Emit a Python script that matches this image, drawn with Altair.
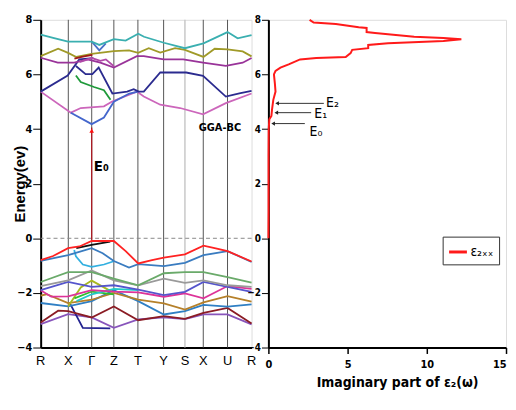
import altair as alt
import pandas as pd

# ---------------- k-path ----------------
KPOS = [0.0, 0.131, 0.242, 0.347, 0.461, 0.583, 0.684, 0.771, 0.886, 1.0]
KLAB = ["R", "X", "Γ", "Z", "T", "Y", "S", "X", "U", "R"]
K_DARK = [0.131, 0.242, 0.347, 0.461, 0.583, 0.771, 0.886]
K_LIGHT = [0.684]

# ---------------- conduction bands ----------------
c_cyan_k = [0, 0.059, 0.130, 0.242, 0.278, 0.347, 0.403, 0.4625, 0.49, 0.584, 0.684, 0.772, 0.886, 0.934, 1.0]
c_cyan_e = [7.46, 7.34, 7.2, 7.2, 7.08, 7.29, 7.24, 7.49, 7.38, 7.16, 6.96, 7.14, 7.55, 7.32, 7.44]
c_dip_k = [0.242, 0.263, 0.278, 0.309]
c_dip_e = [7.2, 7.02, 6.88, 7.14]
c_olive_k = [0, 0.083, 0.130, 0.169, 0.242, 0.347, 0.419, 0.4625, 0.5125, 0.567, 0.6375, 0.684, 0.772, 0.825, 0.886, 0.958, 1.0]
c_olive_e = [6.67, 6.94, 6.79, 6.64, 6.75, 6.85, 6.88, 6.79, 6.96, 6.8, 6.96, 6.9, 6.64, 6.94, 6.92, 6.84, 6.66]
c_purple_k = [0, 0.081, 0.159, 0.222, 0.283, 0.347, 0.456, 0.489, 0.583, 0.676, 0.770, 0.878, 0.958, 1.0]
c_purple_e = [6.61, 6.43, 6.43, 6.55, 6.43, 6.25, 6.67, 6.67, 6.55, 6.55, 6.43, 6.31, 6.43, 6.6]
c_mauve_k = [0.184, 0.242, 0.283, 0.309, 0.347]
c_mauve_e = [6.45, 6.6, 6.5, 6.55, 6.3]
c_dred_k = [0.16, 0.2, 0.245]
c_dred_e = [6.58, 6.65, 6.72]
c_navyA_k = [0, 0.128, 0.183, 0.25]
c_navyA_e = [5.37, 5.96, 6.55, 6.6]
c_navyB_k = [0.167, 0.213, 0.245, 0.275, 0.34, 0.41, 0.441, 0.465, 0.489, 0.567, 0.69, 0.77, 0.878, 0.942, 1.0]
c_navyB_e = [6.31, 6.01, 6.01, 6.25, 5.3, 5.37, 5.46, 5.37, 5.37, 6.07, 6.07, 5.95, 5.19, 5.31, 5.4]
c_green_k = [0.167, 0.19, 0.253, 0.3, 0.331]
c_green_e = [5.96, 5.72, 5.54, 5.42, 5.07]
c_pink_k = [0, 0.143, 0.19, 0.3, 0.339, 0.456, 0.489, 0.567, 0.661, 0.770, 0.878, 1.0]
c_pink_e = [5.37, 4.6, 4.77, 4.83, 5.01, 5.37, 5.19, 4.89, 4.77, 4.54, 4.95, 5.3]
c_corn_k = [0.143, 0.242, 0.3, 0.347, 0.42, 0.4625]
c_corn_e = [4.6, 4.18, 4.42, 5.0, 5.3, 5.37]

# ---------------- valence bands ----------------
v_red_k = [0, 0.059, 0.130, 0.184, 0.242, 0.347, 0.403, 0.4625, 0.528, 0.584, 0.684, 0.772, 0.825, 0.886, 1.0]
v_red_e = [-0.80, -0.65, -0.36, -0.3, -0.1, -0.1, -0.47, -0.92, -0.8, -0.71, -0.59, -0.27, -0.36, -0.47, -0.85]
v_black_k = [0.169, 0.242, 0.33]
v_black_e = [-0.36, -0.24, -0.12]
v_steel_k = [0, 0.130, 0.242, 0.294, 0.347, 0.419, 0.4625, 0.584, 0.684, 0.772, 0.886, 1.0]
v_steel_e = [-0.83, -0.62, -0.36, -0.55, -0.83, -1.07, -0.95, -1.02, -0.9, -0.62, -0.47, -0.87]
v_sky_k = [0.159, 0.167, 0.2, 0.242, 0.3, 0.347]
v_sky_e = [-0.43, -0.66, -0.96, -1.05, -0.96, -0.84]
v_sage_k = [0, 0.130, 0.242, 0.347, 0.4625, 0.584, 0.684, 0.772, 0.886, 1.0]
v_sage_e = [-1.6, -1.24, -1.24, -1.48, -1.72, -1.28, -1.24, -1.24, -1.42, -1.62]
v_gray_k = [0, 0.130, 0.242, 0.347, 0.4625, 0.584, 0.684, 0.772, 0.886, 1.0]
v_gray_e = [-1.75, -1.54, -1.18, -1.54, -1.72, -1.48, -1.63, -1.54, -1.72, -1.78]
v_slate_k = [0, 0.130, 0.242, 0.347, 0.4625, 0.584, 0.684, 0.772, 0.886, 1.0]
v_slate_e = [-1.9, -1.6, -1.78, -1.72, -1.88, -2.08, -1.96, -1.6, -1.78, -1.96]
v_mag_k = [0, 0.05, 0.130, 0.242, 0.347, 0.4625, 0.584, 0.684, 0.772, 0.886, 1.0]
v_mag_e = [-1.9, -2.14, -2.13, -1.9, -1.95, -1.98, -2.14, -2.02, -2.2, -1.75, -1.85]
v_ochre_k = [0, 0.028, 0.130, 0.242, 0.347, 0.4625, 0.584, 0.684, 0.772, 0.886, 1.0]
v_ochre_e = [-2.1, -2.05, -2.37, -2.25, -2.0, -2.25, -2.38, -2.61, -2.35, -2.12, -2.32]
v_blue_k = [0, 0.130, 0.242, 0.347, 0.4625, 0.584, 0.684, 0.772, 0.886, 1.0]
v_blue_e = [-2.37, -2.49, -2.3, -1.9, -2.3, -2.79, -2.67, -2.44, -2.5, -2.42]
v_maroon_k = [0, 0.083, 0.130, 0.242, 0.347, 0.4625, 0.584, 0.684, 0.772, 0.886, 1.0]
v_maroon_e = [-3.08, -2.65, -2.67, -2.9, -2.5, -3.0, -2.85, -2.95, -2.73, -2.55, -3.12]
v_violet_k = [0, 0.130, 0.242, 0.347, 0.4625, 0.584, 0.684, 0.772, 0.886, 1.0]
v_violet_e = [-3.14, -2.78, -2.9, -3.28, -2.97, -2.9, -2.96, -2.79, -2.79, -3.15]
v_navy_k = [0.14, 0.2, 0.33]
v_navy_e = [-2.4, -3.28, -3.3]
v_olive_k = [0.130, 0.19, 0.242, 0.347]
v_olive_e = [-2.5, -1.8, -1.55, -2.0]
v_green_k = [0.16, 0.242, 0.347]
v_green_e = [-2.2, -1.95, -2.05]
v_cyan_k = [0.17, 0.242, 0.347, 0.4625]
v_cyan_e = [-2.3, -2.05, -1.85, -1.9]

BANDS = [
    ("c_pink", c_pink_k, c_pink_e, "#cc66bb"),
    ("c_corn", c_corn_k, c_corn_e, "#4466cc"),
    ("c_green", c_green_k, c_green_e, "#1f9a3a"),
    ("c_navyA", c_navyA_k, c_navyA_e, "#2b2b8f"),
    ("c_navyB", c_navyB_k, c_navyB_e, "#2b2b8f"),
    ("c_purple", c_purple_k, c_purple_e, "#993399"),
    ("c_mauve", c_mauve_k, c_mauve_e, "#b04aa8"),
    ("c_olive", c_olive_k, c_olive_e, "#a09a28"),
    ("c_dred", c_dred_k, c_dred_e, "#a01818"),
    ("c_dip", c_dip_k, c_dip_e, "#4a70c8"),
    ("c_cyan", c_cyan_k, c_cyan_e, "#3aafb0"),
    ("v_violet", v_violet_k, v_violet_e, "#8855bb"),
    ("v_navy", v_navy_k, v_navy_e, "#22228f"),
    ("v_maroon", v_maroon_k, v_maroon_e, "#8b1c24"),
    ("v_blue", v_blue_k, v_blue_e, "#2f7fc4"),
    ("v_ochre", v_ochre_k, v_ochre_e, "#b5802a"),
    ("v_olive", v_olive_k, v_olive_e, "#a8b820"),
    ("v_green", v_green_k, v_green_e, "#2fbf2f"),
    ("v_cyan", v_cyan_k, v_cyan_e, "#22c8c8"),
    ("v_mag", v_mag_k, v_mag_e, "#dd3399"),
    ("v_slate", v_slate_k, v_slate_e, "#5555cc"),
    ("v_gray", v_gray_k, v_gray_e, "#9a9a9a"),
    ("v_sage", v_sage_k, v_sage_e, "#6aaa6a"),
    ("v_sky", v_sky_k, v_sky_e, "#33b0e0"),
    ("v_steel", v_steel_k, v_steel_e, "#3a7cc0"),
    ("v_black", v_black_k, v_black_e, "#111111"),
    ("v_red", v_red_k, v_red_e, "#ff2222"),
]

# ---------------- epsilon_2 spectrum ----------------
eps_vals = [2.6, 2.86, 4.26, 5.7, 6.2, 6.2, 6.73, 9.2, 11.05, 12.18, 11.05, 7.55, 6.3, 6.3, 5.29,
            5.19, 4.88, 3.02, 2.0, 1.28, 0.76, 0.45, 0.35, 0.41, 0.45, 0.31, 0.23, 0.19, 0.06, 0.02,
            0.01, 0.01, 0.01, 0.0]
eps_energy = [8.0, 7.9, 7.85, 7.73, 7.7, 7.55, 7.52, 7.38, 7.33, 7.29, 7.22, 7.14, 7.08, 6.96, 6.9,
              6.78, 6.64, 6.6, 6.55, 6.37, 6.25, 6.13, 6.0, 5.66, 5.37, 5.07, 4.72, 4.48, 4.36, 4.0,
              3.0, 2.0, 1.0, 0.0]

# transition markers on the spectrum
trans_lab = ["E₂", "E₁", "E₀"]
trans_e = [4.94, 4.6, 4.2]
trans_from = [3.5, 2.7, 2.3]
trans_to = [0.55, 0.5, 0.3]
trans_text_x = [3.64, 2.9, 2.6]
trans_text_e = [4.95, 4.55, 3.88]

# gap annotation
gap_k = 0.242
gap_e = [-0.05, 4.06]
gap_label = "E₀"
gap_label_pos = [0.252, 2.65]
method_label = "GGA-BC"
method_pos = [0.85, 4.02]

NARROW = "DejaVu Sans Condensed, Liberation Sans Narrow, sans-serif"
SANS = "Liberation Sans, Arial, sans-serif"

# ---------------- build band dataframe ----------------
rows = []
for name, ks, es, col in BANDS:
    for i, (k, e) in enumerate(zip(ks, es)):
        rows.append({"band": name, "k": k, "E": e, "i": i})
bdf = pd.DataFrame(rows)
band_names = [b[0] for b in BANDS]
band_colors = [b[3] for b in BANDS]

H = 331
kx = alt.Scale(domain=[0, 1], nice=False, zero=False)
ey = alt.Scale(domain=[-4, 8], nice=False, zero=False)

x_axis_left = alt.Axis(values=KPOS, labels=False, ticks=False, title=None, grid=False,
                       domainColor="black", domainWidth=2)
y_axis_left = alt.Axis(values=list(range(-4, 9)), title="Energy(ev)", grid=False,
                       titleFont=SANS, titleFontSize=15, titleFontWeight="bold", titleX=-21,
                       titleBaseline="middle", titleColor="black",
                       labelFont=NARROW, labelFontSize=11, labelFontWeight="bold", labelColor="black",
                       labelOverlap=False,
                       tickSize=8, tickColor="black", labelPadding=1,
                       domainColor="black", domainWidth=2)

bands = alt.Chart(bdf).mark_line(strokeWidth=1.8).encode(
    x=alt.X("k:Q", scale=kx, axis=x_axis_left),
    y=alt.Y("E:Q", scale=ey, axis=y_axis_left),
    color=alt.Color("band:N", scale=alt.Scale(domain=band_names, range=band_colors), legend=None),
    detail="band:N",
    order="i:Q",
)

klab_df = pd.DataFrame({"k": KPOS, "lab": KLAB, "E": [-4] * len(KPOS)})
klabels = alt.Chart(klab_df).mark_text(baseline="top", dy=8, font=SANS, fontSize=13,
                                       color="black").encode(x="k:Q", y="E:Q", text="lab:N")

vdark = alt.Chart(pd.DataFrame({"k": K_DARK})).mark_rule(strokeWidth=1, color="#555555").encode(x="k:Q")
vlight = alt.Chart(pd.DataFrame({"k": K_LIGHT})).mark_rule(strokeWidth=1.5, color="#c8c8c8").encode(x="k:Q")

zero = alt.Chart(pd.DataFrame({"E": [0]})).mark_rule(strokeDash=[4, 3], color="#888888", strokeWidth=1).encode(
    y="E:Q")

gap_df = pd.DataFrame({"k": [gap_k], "E0": [gap_e[0]], "E1": [gap_e[1]]})
gap_line = alt.Chart(gap_df).mark_rule(color="#b0101a", strokeWidth=1.2).encode(
    x="k:Q", y="E0:Q", y2="E1:Q")
gap_head = alt.Chart(pd.DataFrame({"k": [gap_k], "E": [gap_e[1] - 0.12]})).mark_point(
    shape="triangle-up", filled=True, color="#ff1010", size=22, opacity=1).encode(x="k:Q", y="E:Q")
gap_txt = alt.Chart(pd.DataFrame({"k": [gap_label_pos[0]], "E": [gap_label_pos[1]], "t": [gap_label]})).mark_text(
    align="left", baseline="middle", font=NARROW, fontSize=15, fontWeight="bold", color="black").encode(
    x="k:Q", y="E:Q", text="t:N")
meth_txt = alt.Chart(pd.DataFrame({"k": [method_pos[0]], "E": [method_pos[1]], "t": [method_label]})).mark_text(
    align="center", baseline="middle", font=NARROW, fontSize=11, fontWeight="bold", color="black").encode(
    x="k:Q", y="E:Q", text="t:N")

left = alt.layer(vdark, vlight, zero, bands, gap_line, gap_head, gap_txt, meth_txt, klabels).properties(
    width=213, height=H)

# ---------------- right panel ----------------
edf = pd.DataFrame({"eps": eps_vals, "E": eps_energy, "i": list(range(len(eps_vals))),
                    "series": ["ε₂ₓₓ"] * len(eps_vals)})
xs = alt.Scale(domain=[0, 15], nice=False, zero=False)

x_axis_right = alt.Axis(values=[0, 5, 10, 15], title="Imaginary part of ε₂(ω)", grid=False,
                        titleFont=NARROW, titleFontSize=14, titleFontWeight="bold", titleColor="black",
                        titlePadding=6, titleX=130,
                        labelFont=NARROW, labelFontSize=11, labelFontWeight="bold", labelColor="black",
                        labelPadding=5, tickSize=6, tickColor="black", tickWidth=1.5,
                        labelOverlap=False,
                        labelAlign=alt.ExprRef(expr="datum.value == 15 ? 'right' : 'center'"),
                        domainColor="black", domainWidth=2)
y_axis_right = alt.Axis(values=list(range(-4, 9)), title=None, grid=False,
                        labelFont=NARROW, labelFontSize=10, labelFontWeight="bold", labelColor="black",
                        labelOverlap=False,
                        tickSize=7, tickColor="black", labelPadding=1,
                        domainColor="black", domainWidth=2)

spec = alt.Chart(edf).mark_line(strokeWidth=2).encode(
    x=alt.X("eps:Q", scale=xs, axis=x_axis_right),
    y=alt.Y("E:Q", scale=ey, axis=y_axis_right),
    color=alt.Color("series:N", scale=alt.Scale(domain=["ε₂ₓₓ"], range=["#ff1a1a"]),
                    legend=alt.Legend(title=None, orient="none", legendX=176, legendY=219,
                                      strokeColor="#333333", padding=5, symbolType="stroke",
                                      symbolSize=324, symbolStrokeWidth=3, labelFont=NARROW,
                                      labelFontSize=14, labelColor="black", labelOffset=2)),
    order="i:Q",
)

tdf = pd.DataFrame({"lab": trans_lab, "E": trans_e, "x0": trans_from, "x1": trans_to,
                    "tx": trans_text_x, "te": trans_text_e})
arrows = alt.Chart(tdf).mark_rule(color="#333333", strokeWidth=1).encode(
    x="x0:Q", x2="x1:Q", y="E:Q")
heads = alt.Chart(tdf).mark_point(shape="triangle-left", filled=True, color="#222222", size=18,
                                  opacity=1).encode(x="x1:Q", y="E:Q")
tlabels = alt.Chart(tdf).mark_text(align="left", baseline="middle", font=NARROW, fontSize=14,
                                   color="black").encode(x="tx:Q", y="te:Q", text="lab:N")

right = alt.layer(spec, arrows, heads, tlabels).properties(width=240, height=H)

chart = alt.concat(left, right, columns=2, spacing=17, align="each", bounds="flush").resolve_scale(
    color="independent").properties(
    padding={"left": 4, "top": 3, "right": 0, "bottom": 0}
).configure_view(stroke="black", strokeWidth=1.5).configure(background="white")

chart.save("out.html", embed_options={"renderer": "svg", "actions": False})
